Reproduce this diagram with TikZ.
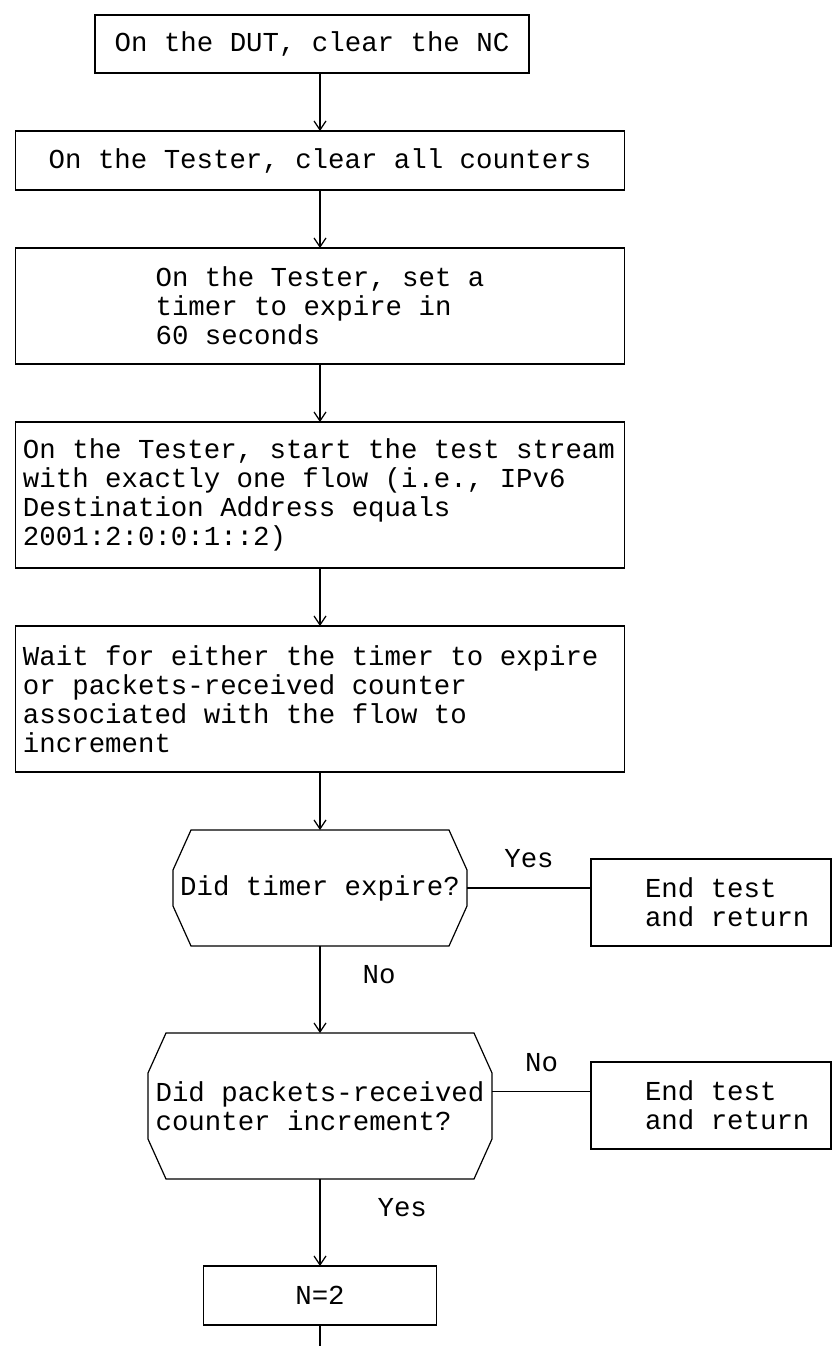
\documentclass[tikz,border=0pt]{standalone}
\usepackage{fontspec}
\setmonofont{Liberation Mono}
\usetikzlibrary{positioning,calc,arrows.meta}

\begin{document}
\begin{tikzpicture}[x=0.5pt, y=-0.5pt,
    font=\ttfamily\fontsize{13.7pt}{14.55pt}\selectfont,
    box/.style={draw, rectangle, line width=0.6pt, inner sep=2pt, outer sep=0pt,
        execute at begin node={\spaceskip=\fontdimen2\font\relax}},
    decision/.style={rectangle, inner sep=2pt, outer sep=0pt},
    wire/.style={line width=0.6pt},
    flowline/.style={wire, -{Straight Barb[length=4.5pt, width=6pt]}},
    lbl/.style={inner sep=0pt}]
    \useasboundingbox (0,0) rectangle (834,1346);
    % Nodes
    \node [box, minimum width=217pt, minimum height=29pt] (dut) at (312,44) {On the DUT, clear the NC};
    \node [box, minimum width=304.5pt, minimum height=29.5pt] (clear) at (320,160.5) {On the Tester, clear all counters};
    \node [box, minimum width=304.5pt, minimum height=58pt, align=left, below=29pt of clear] (timer) {On the Tester, set a\\timer to expire in\\60 seconds};
    \node [box, minimum width=304.5pt, minimum height=73pt, text width=297pt, below=29pt of timer] (stream) {On the Tester, start the test stream\\with exactly one flow (i.e., IPv6\\Destination Address equals\\2001:2:0:0:1::2)};
    \node [box, minimum width=304.5pt, minimum height=73pt, text width=297pt, below=29pt of stream] (wait) {Wait for either the timer to expire\\or packets-received counter\\associated with the flow to\\increment};
    \node [decision, minimum width=147pt, minimum height=58pt, below=29pt of wait] (expire) {Did timer expire?};
    \node [box, minimum width=120pt, minimum height=43.5pt, text width=66pt, right=62pt of expire, yshift=-7.25pt] (stop1) {End test\\and~return};
    \node [decision, minimum width=172pt, minimum height=73pt, align=left, below=43.5pt of expire] (incr) {Did packets-received\\counter increment?};
    \node [box, minimum width=120pt, minimum height=43.5pt, text width=66pt, below=58pt of stop1] (stop2) {End test\\and~return};
    \node [box, minimum width=116.5pt, minimum height=29.5pt, below=43.5pt of incr] (ntwo) {N=2};
    \coordinate (next) at (320,1346);
    % Decision outlines
    \foreach \d in {expire, incr} {
        \draw [wire] ($(\d.north west)+(18,0)$) -- ($(\d.north east)+(-18,0)$) -- ($(\d.north east)+(0,40)$)
            -- ($(\d.south east)+(0,-40)$) -- ($(\d.south east)+(-18,0)$) -- ($(\d.south west)+(18,0)$)
            -- ($(\d.south west)+(0,-40)$) -- ($(\d.north west)+(0,40)$) -- cycle;
    }
    % Arrows
    \draw [flowline] (dut.south -| clear.north) -- (clear.north);
    \draw [flowline] (clear.south) -- (timer.north);
    \draw [flowline] (timer.south) -- (stream.north);
    \draw [flowline] (stream.south) -- (wait.north);
    \draw [flowline] (wait.south) -- (expire.north);
    \draw [wire] (expire.east) -- node [lbl, yshift=14.5pt] {Yes} (expire.east -| stop1.west);
    \draw [flowline] (expire.south) -- node [lbl, right=21pt, pos=0.33] {No} (incr.north);
    \draw [wire] ([yshift=7.25pt]incr.east) -- node [lbl, yshift=14.5pt] {No} ([yshift=7.25pt]incr.east -| stop2.west);
    \draw [flowline] (incr.south) -- node [lbl, right=28.5pt, pos=0.33] {Yes} (ntwo.north);
    \draw [wire] (ntwo.south) -- (next);
\end{tikzpicture}
\end{document}
